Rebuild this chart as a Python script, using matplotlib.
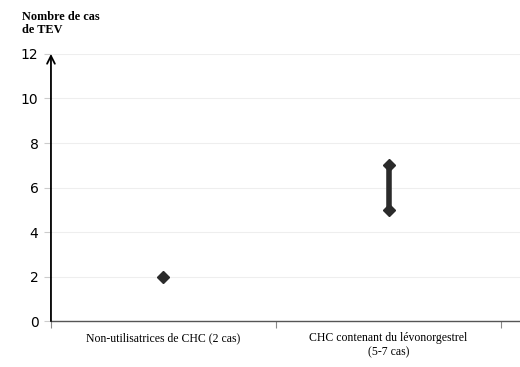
import numpy as np
import matplotlib.pyplot as plt

categories = ['Non-utilisatrices de CHC (2 cas)',
              'CHC contenant du lévonorgestrel\n(5-7 cas)']
low_values = [2, 5]
high_values = [2, 7]
y_ticks = [0, 2, 4, 6, 8, 10, 12]

fig = plt.figure(figsize=(5.2, 3.67), dpi=100)
ax = fig.add_axes([0.098, 0.125, 0.902, 0.728])

x = np.arange(len(categories)) + 0.5
col = '#2b2b2b'
for xi, lo, hi in zip(x, low_values, high_values):
    if hi > lo:
        ax.plot([xi, xi], [lo, hi], color=col, linewidth=4, solid_capstyle='butt', zorder=3)
        ax.plot([xi, xi], [lo, hi], 'D', color=col, markersize=6, zorder=4)
    else:
        ax.plot([xi], [lo], 'D', color=col, markersize=6, zorder=4)

ax.set_xlim(0, 2.084)
ax.set_ylim(0, 12)
ax.set_yticks(y_ticks)
ax.set_xticks([0, 1, 2])
ax.set_xticklabels([])
ax.set_xticks(x, minor=True)
ax.set_xticklabels(categories, minor=True, fontsize=8.5, family='Liberation Serif',
                   linespacing=1.25)
ax.tick_params(axis='x', which='minor', length=0, pad=8)
ax.tick_params(axis='x', which='major', length=5, color='#888888')
ax.tick_params(axis='y', length=5, color='#cccccc', labelsize=10, pad=4)

ax.grid(axis='y', color='#eeeeee', linewidth=0.8)
ax.set_axisbelow(True)
for s in ['top', 'right']:
    ax.spines[s].set_visible(False)
ax.spines['left'].set_visible(False)
ax.spines['bottom'].set_color('#555555')
ax.spines['bottom'].set_linewidth(1)

# axe y avec flèche
ax.annotate('', xy=(0, 12), xytext=(0, 0),
            xycoords=('axes fraction', 'data'),
            arrowprops=dict(arrowstyle='->', color='black', lw=1.3,
                            mutation_scale=14, shrinkA=0, shrinkB=0))

fig.text(0.042, 0.935, 'Nombre de cas\nde TEV', fontsize=8.8, fontweight='bold',
         family='Liberation Serif', va='center', linespacing=1.1)

plt.savefig('out.png', dpi=100)
